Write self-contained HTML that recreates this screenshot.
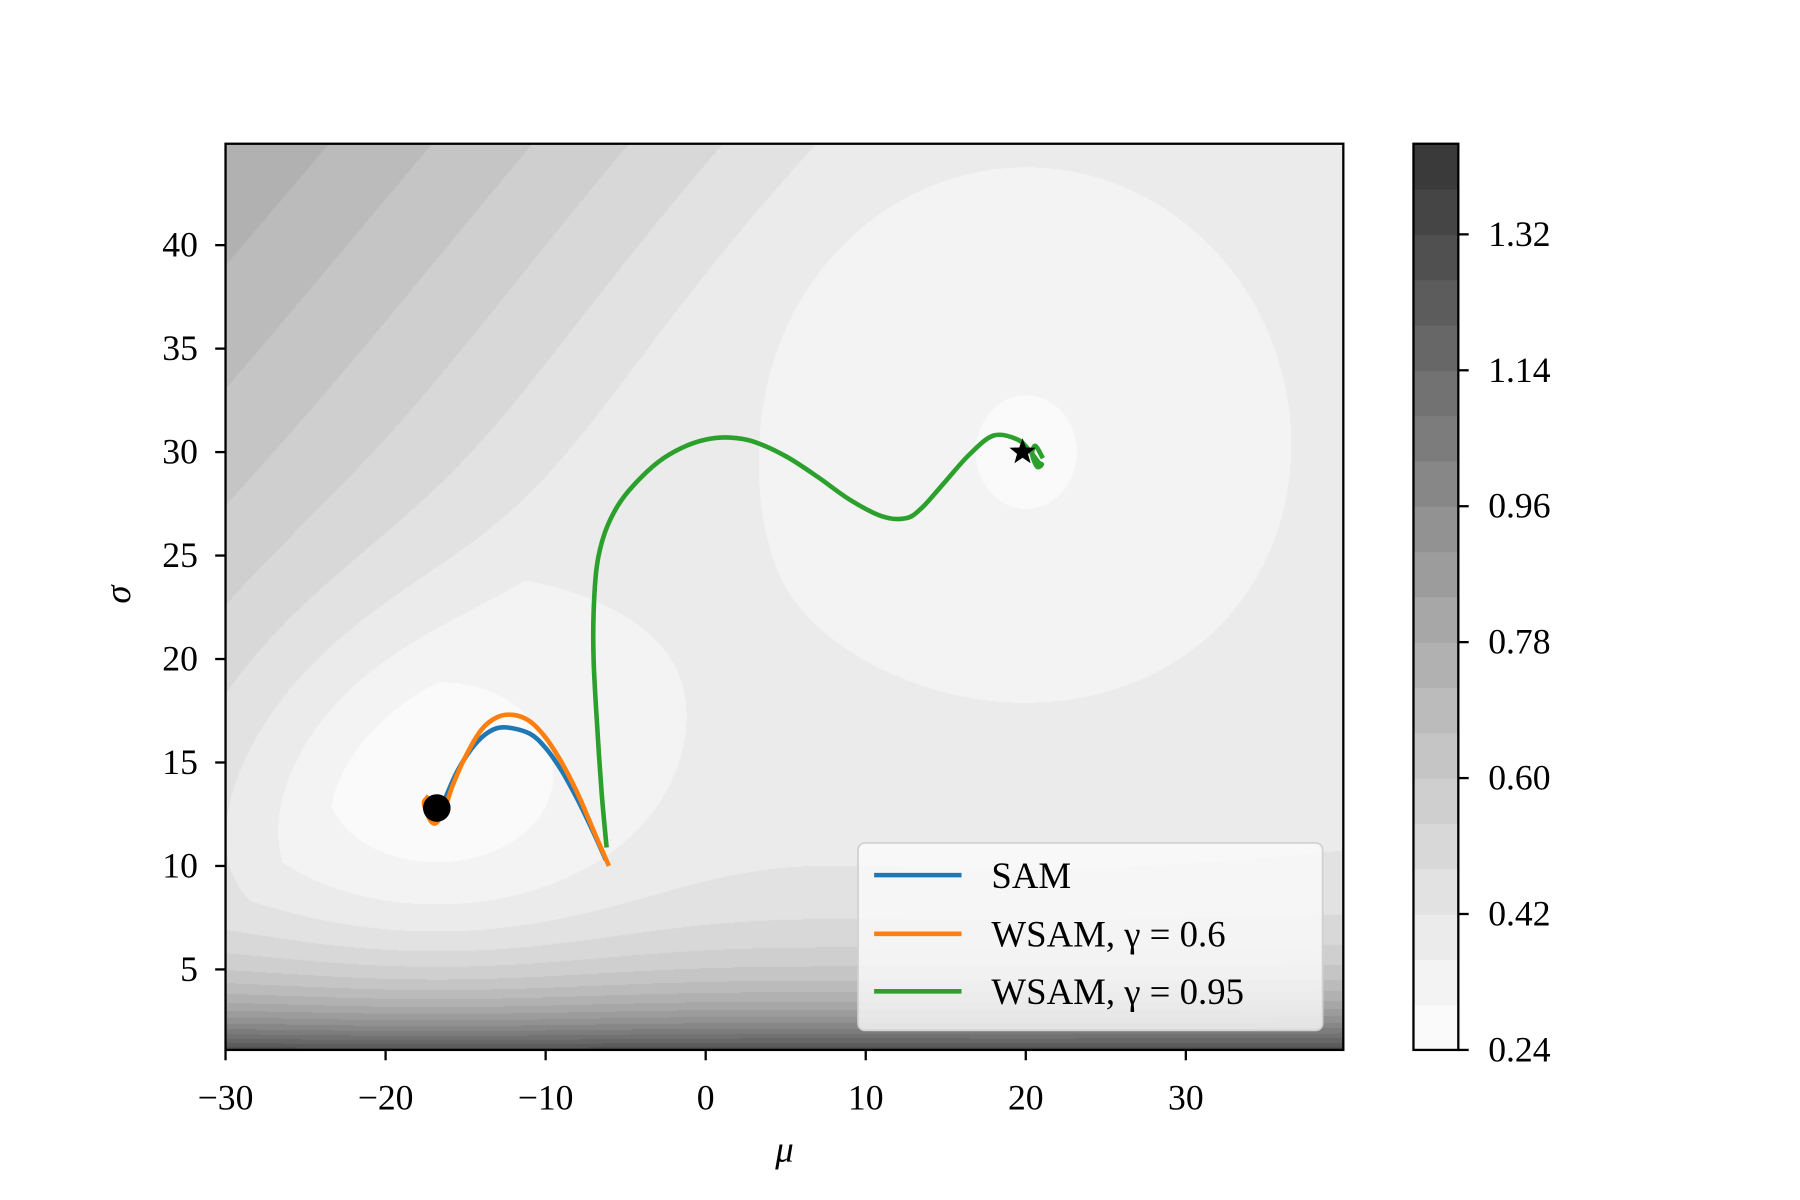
<!DOCTYPE html>
<html><head><meta charset="utf-8">
<style>
html,body{margin:0;padding:0;background:#fff;}
#wrap{position:relative;width:1800px;height:1200px;}
canvas,svg{position:absolute;left:0;top:0;}
text{font-family:"Liberation Serif","DejaVu Serif",serif;fill:#000;}
</style></head>
<body>
<div id="wrap">
<canvas id="cv" width="1800" height="1200"></canvas>
<svg id="sv" width="1800" height="1200" viewBox="0 0 1565 1043.5"></svg>
</div>
<script>
// ---- data ----
const xTicks = [-30,-20,-10,0,10,20,30];
const yTicks = [5,10,15,20,25,30,35,40];
const cbTicks = [0.24,0.42,0.60,0.78,0.96,1.14,1.32];
const cbLabels = ["0.24","0.42","0.60","0.78","0.96","1.14","1.32"];
const levelMin = 0.24, levelStep = 0.06, levelCount = 20;
const samMu = [-6.3,-7,-8,-9,-10,-11,-12.5,-13.5,-14.5,-15.5,-16.2,-16.7,-17,-17.3,-17.2];
const samSigma = [10.4,11.6,13.2,14.6,15.7,16.4,16.7,16.5,15.8,14.6,13.4,12.5,12.2,12.6,13.0];
const w6Mu = [-6.1,-7,-8,-9,-10,-11,-12,-13,-14,-15,-15.8,-16.3,-16.8,-17.2,-17.6,-17.4];
const w6Sigma = [10.1,11.7,13.5,15,16.2,17,17.3,17.2,16.6,15.3,13.9,12.8,12.1,12.2,13.0,13.3];
const w95Mu = [-6.2,-6.5,-6.8,-7,-7,-6.8,-6.3,-5.5,-4.5,-3,-1.5,0,1.5,3,5,7,9,11,12.5,13.5,15,16.5,18,19.5,20.3,20.8,21,20.7,20.4,20.6,21];
const w95Sigma = [11,13.5,17,19.9,22.3,24.5,26.1,27.4,28.4,29.5,30.2,30.6,30.7,30.5,29.8,28.8,27.7,26.9,26.8,27.3,28.6,29.9,30.8,30.6,30.0,29.5,29.4,29.3,29.9,30.3,29.8];
const startPt = [-16.8,12.8];
const endPt = [19.8,30];

// ---- geometry (view coords) ----
const S = 1800/1565;
const L=196, R=1168, T=125, B=913;
const xMin=-30, xMax=39.84, yMin=1.11, yMax=44.9;
function X(v){return L+(v-xMin)/(xMax-xMin)*(R-L);}
function Y(v){return B-(v-yMin)/(yMax-yMin)*(B-T);}
const CL=1229, CR=1268;
const cbMax = levelMin+levelStep*levelCount;
function CY(v){return B-(v-levelMin)/(cbMax-levelMin)*(B-T);}
function gray(i){
  const t=i/(levelCount-1);
  const g=Math.round(250-(250-58)*Math.pow(t,1.12));
  return [g,g,g];
}
function f(mu,s){
  let v=0.40;
  v-=0.15*Math.exp(-((mu+17)**2/(2*9*9)+(s-13)**2/(2*6.5*6.5)));
  v-=0.065*Math.exp(-((mu-20)**2/(2*17*17)+(s-30)**2/(2*14*14)));
  v-=0.05*Math.exp(-((mu-20)**2/(2*4*4)+(s-30)**2/(2*3.5*3.5)));
  v+=1.1*Math.exp(-(s-0.5)/2.6);
  v+=0.06*Math.exp(-(s-1)/6);
  const d=(-mu*0.9+s-34)/30;
  if(d>0) v+=0.3*d;
  return v;
}
const cv=document.getElementById('cv'),ctx=cv.getContext('2d');
const img=ctx.createImageData(1800,1200);
const pl=Math.round(L*S),pr=Math.round(R*S),pt=Math.round(T*S),pb=Math.round(B*S);
for(let py=pt;py<pb;py++){for(let px=pl;px<pr;px++){
  const vx=px/S,vy=py/S;
  const mu=xMin+(vx-L)/(R-L)*(xMax-xMin);
  const s=yMin+(B-vy)/(B-T)*(yMax-yMin);
  let i=Math.floor((f(mu,s)-levelMin)/levelStep);
  i=Math.max(0,Math.min(levelCount-1,i));
  const c=gray(i),k=(py*1800+px)*4;
  img.data[k]=c[0];img.data[k+1]=c[1];img.data[k+2]=c[2];img.data[k+3]=255;
}}
ctx.putImageData(img,0,0);

const NS='http://www.w3.org/2000/svg',sv=document.getElementById('sv');
function el(tag,attrs,parent){const e=document.createElementNS(NS,tag);for(const k in attrs)e.setAttribute(k,attrs[k]);(parent||sv).appendChild(e);return e;}
function txt(str,attrs){const e=el('text',attrs);e.textContent=str;return e;}
for(let i=0;i<levelCount;i++){
  const c=gray(i);
  const r=el('rect',{x:CL,y:CY(levelMin+(i+1)*levelStep),width:CR-CL,height:CY(levelMin+i*levelStep)-CY(levelMin+(i+1)*levelStep)+0.5,fill:`rgb(${c[0]},${c[1]},${c[2]})`});
  
  
}
const cbf=el('rect',{x:CL,y:T,width:CR-CL,height:B-T,fill:'none',stroke:'#000','stroke-width':2});


cbTicks.forEach((v,i)=>{
  el('line',{x1:CR,x2:CR+9,y1:CY(v),y2:CY(v),stroke:'#000','stroke-width':2});
  const t=txt(cbLabels[i],{x:CR+26,y:CY(v)+10,'font-size':31});
  
  
});
function line(mus,sig,color,name){
  const p=mus.map((m,i)=>[X(m),Y(sig[i])]);
  let d='M'+p[0][0].toFixed(1)+','+p[0][1].toFixed(1);
  for(let i=0;i<p.length-1;i++){
    const p0=p[Math.max(0,i-1)],p1=p[i],p2=p[i+1],p3=p[Math.min(p.length-1,i+2)];
    const c1=[p1[0]+(p2[0]-p0[0])/6,p1[1]+(p2[1]-p0[1])/6];
    const c2=[p2[0]-(p3[0]-p1[0])/6,p2[1]-(p3[1]-p1[1])/6];
    d+=' C'+c1.map(v=>v.toFixed(1)).join(',')+' '+c2.map(v=>v.toFixed(1)).join(',')+' '+p2.map(v=>v.toFixed(1)).join(',');
  }
  const e=el('path',{d:d,fill:'none',stroke:color,'stroke-width':4,'stroke-linejoin':'round','stroke-linecap':'square'});
  
  
}
line(samMu,samSigma,'#1f77b4','sam-line');
line(w6Mu,w6Sigma,'#ff7f0e','wsam-0.6-line');
line(w95Mu,w95Sigma,'#2ca02c','wsam-0.95-line');
const dot=el('circle',{cx:X(startPt[0]),cy:Y(startPt[1]),r:12,fill:'#000'});


(function(){const cx=X(endPt[0]),cy=Y(endPt[1]),ro=12,ri=5;let pts=[];
for(let i=0;i<10;i++){const a=-Math.PI/2+i*Math.PI/5,r=i%2?ri:ro;pts.push((cx+r*Math.cos(a)).toFixed(1)+','+(cy+r*Math.sin(a)).toFixed(1));}
const s=el('polygon',{points:pts.join(' '),fill:'#000'});

})();
const fr=el('rect',{x:L,y:T,width:R-L,height:B-T,fill:'none',stroke:'#000','stroke-width':2});


xTicks.forEach(v=>{
  el('line',{x1:X(v),x2:X(v),y1:B,y2:B+9,stroke:'#000','stroke-width':2});
  const t=txt(v<0?'\u2212'+(-v):String(v),{x:X(v),y:B+52,'font-size':31,'text-anchor':'middle'});
  
  
});
yTicks.forEach(v=>{
  el('line',{x1:L-9,x2:L,y1:Y(v),y2:Y(v),stroke:'#000','stroke-width':2});
  const t=txt(String(v),{x:L-24,y:Y(v)+10,'font-size':31,'text-anchor':'end'});
  
  
});
const xl=txt('\u03bc',{x:682,y:1010,'font-size':32,'font-style':'italic','text-anchor':'middle'});


const yl=txt('\u03c3',{x:0,y:0,'font-size':32,'font-style':'italic','text-anchor':'middle',transform:'translate(113,517) rotate(-90)'});


const lg=el('rect',{x:746,y:733,width:404,height:163,rx:6,fill:'#fbfbfb','fill-opacity':0.8,stroke:'#d0d0d0','stroke-width':1.5});


[['SAM','#1f77b4',761],['WSAM, \u03b3 = 0.6','#ff7f0e',812],['WSAM, \u03b3 = 0.95','#2ca02c',862]].forEach(e=>{
  el('line',{x1:760,x2:836,y1:e[2],y2:e[2],stroke:e[1],'stroke-width':4});
  const t=txt(e[0],{x:862,y:e[2]+11,'font-size':32});
  
  
});
</script>
</body></html>
